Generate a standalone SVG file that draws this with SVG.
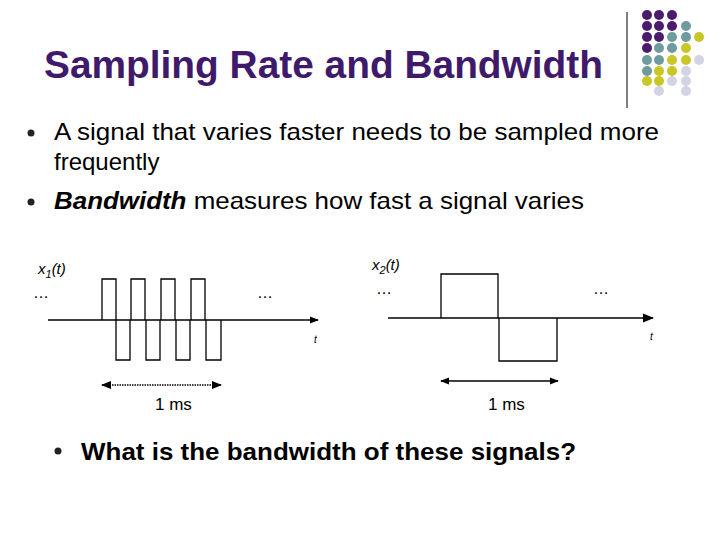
<svg xmlns="http://www.w3.org/2000/svg" width="720" height="540" viewBox="0 0 720 540">
<defs>
<style>
text{font-family:"Liberation Sans",Arial,sans-serif}
.w{fill:none;stroke:#000;stroke-width:1.3}
.P{fill:#4B1C6E}.T{fill:#6E9B9E}.Y{fill:#C9C628}.L{fill:#D3D3E6}
.it{font-style:italic;font-size:15px}
</style>
<marker id="a" viewBox="0 0 10 10" refX="9" refY="5" markerWidth="7" markerHeight="7" orient="auto-start-reverse"><path d="M0,1L10,5L0,9z"/></marker>
</defs>
<rect width="720" height="540" fill="#fff"/>
<g id="deco">
<line x1="627" y1="12" x2="627" y2="108" stroke="#000"/>
<g>
<circle class="P" cx="647" cy="15" r="5"/><circle class="P" cx="659" cy="15" r="5"/><circle class="P" cx="672" cy="15" r="5"/>
<circle class="P" cx="647" cy="26" r="5"/><circle class="P" cx="659" cy="26" r="5"/><circle class="P" cx="672" cy="26" r="5"/><circle class="T" cx="686" cy="26" r="5"/>
<circle class="P" cx="647" cy="37" r="5"/><circle class="P" cx="659" cy="37" r="5"/><circle class="T" cx="672" cy="37" r="5"/><circle class="T" cx="686" cy="37" r="5"/><circle class="Y" cx="699" cy="37" r="5"/>
<circle class="P" cx="647" cy="48" r="5"/><circle class="T" cx="659" cy="48" r="5"/><circle class="T" cx="672" cy="48" r="5"/><circle class="Y" cx="686" cy="48" r="5"/>
<circle class="T" cx="647" cy="60" r="5"/><circle class="T" cx="659" cy="60" r="5"/><circle class="Y" cx="672" cy="60" r="5"/><circle class="Y" cx="686" cy="60" r="5"/><circle class="L" cx="699" cy="60" r="5"/>
<circle class="T" cx="647" cy="71" r="5"/><circle class="Y" cx="659" cy="71" r="5"/><circle class="Y" cx="672" cy="71" r="5"/><circle class="L" cx="686" cy="71" r="5"/>
<circle class="Y" cx="647" cy="81" r="5"/><circle class="Y" cx="659" cy="81" r="5"/><circle class="L" cx="672" cy="81" r="5"/><circle class="L" cx="686" cy="81" r="5"/>
<circle class="L" cx="659" cy="91" r="5"/><circle class="L" cx="686" cy="91" r="5"/>
</g>
</g>
<g id="title"><text x="44" y="78" font-size="38" font-weight="bold" fill="#3F1A6B" textLength="559" lengthAdjust="spacingAndGlyphs">Sampling Rate and Bandwidth</text></g>
<g id="bullets" font-size="24">
<circle cx="31" cy="133" r="3.5" fill="#222"/>
<text x="54" y="140" textLength="605" lengthAdjust="spacingAndGlyphs">A signal that varies faster needs to be sampled more</text>
<text x="54" y="170">frequently</text>
<circle cx="31" cy="202" r="3.5" fill="#222"/>
<text x="54" y="209" textLength="530" lengthAdjust="spacingAndGlyphs"><tspan font-style="italic" font-weight="bold">Bandwidth</tspan> measures how fast a signal varies</text>
<circle cx="58" cy="451" r="3.5" fill="#222"/>
<text x="81" y="460" font-weight="bold" textLength="495" lengthAdjust="spacingAndGlyphs">What is the bandwidth of these signals?</text>
</g>
<g id="signal1">
<text x="38" y="274" class="it">x<tspan font-size="11" dy="4">1</tspan><tspan dy="-4">(t)</tspan></text>
<text x="33" y="298" font-size="16">…</text>
<text x="257" y="298" font-size="16">…</text>
<path class="w" d="M102,320V279H116V320M131,320V279H145V320M161,320V279H175V320M191,320V279H205V320"/>
<path class="w" d="M116,320V360H130V320M146,320V360H160V320M176,320V360H190V320M206,320V360H221V320"/>
<text x="314" y="343" font-size="10" font-style="italic">t</text>
<text x="155" y="410" font-size="17">1 ms</text>
</g>
<g id="signal2">
<text x="372" y="270" class="it">x<tspan font-size="11" dy="4">2</tspan><tspan dy="-4">(t)</tspan></text>
<text x="376" y="294" font-size="16">…</text>
<text x="593" y="294" font-size="16">…</text>
<path class="w" d="M441,318V274H498V318M499,318V361H557V318"/>
<text x="650" y="340" font-size="10" font-style="italic">t</text>
<text x="488" y="410" font-size="17">1 ms</text>
</g>
<g id="connectors" stroke="#000">
<line x1="48" y1="320" x2="318" y2="320" stroke-width="1.3" marker-end="url(#a)"/>
<line x1="388" y1="318" x2="653" y2="318" stroke-width="1.6" marker-end="url(#a)"/>
<line x1="102" y1="385" x2="221" y2="385" stroke-width="1.5" stroke-dasharray="1.5,1" marker-start="url(#a)" marker-end="url(#a)"/>
<line x1="441" y1="381" x2="558" y2="381" stroke-width="1.3" marker-start="url(#a)" marker-end="url(#a)"/>
</g>
</svg>
